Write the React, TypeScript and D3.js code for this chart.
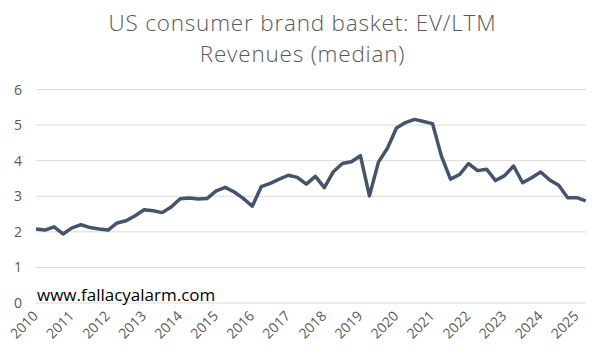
import React from "react";
import * as d3 from "d3";

const values: number[] = [
  2.08, 2.05, 2.14, 1.94, 2.11, 2.2, 2.12, 2.08, 2.05, 2.25, 2.31, 2.45, 2.62, 2.59, 2.54, 2.7,
  2.93, 2.95, 2.92, 2.94, 3.15, 3.25, 3.12, 2.94, 2.72, 3.27, 3.36, 3.48, 3.59, 3.53, 3.34, 3.56,
  3.24, 3.69, 3.92, 3.97, 4.14, 3.01, 3.96, 4.35, 4.92, 5.07, 5.16, 5.1, 5.04, 4.12, 3.48, 3.61,
  3.92, 3.72, 3.76, 3.44, 3.58, 3.85, 3.38, 3.52, 3.68, 3.46, 3.31, 2.96, 2.96, 2.87,
];
const years: string[] = [
  "2010", "2011", "2012", "2013", "2014", "2015", "2016", "2017",
  "2018", "2019", "2020", "2021", "2022", "2023", "2024", "2025",
];
const yTicks: number[] = [0, 1, 2, 3, 4, 5, 6];
const titleLines: string[] = ["US consumer brand basket: EV/LTM", "Revenues (median)"];
const watermark = "www.fallacyalarm.com";

const W = 611;
const H = 358;
const left = 36;
const right = 585.7;
const top = 89.5;
const bottom = 303;

export default function App() {
  const x = d3.scaleLinear().domain([0, values.length - 1]).range([left, right]);
  const y = d3.scaleLinear().domain([0, 6]).range([bottom, top]);
  const line = d3
    .line<number>()
    .x((_, i) => x(i))
    .y((d) => y(d));
  const gray = "#595959";
  return (
    <svg
      width={W}
      height={H}
      style={{ position: "absolute", left: 0, top: 0, background: "#fff" }}
    >
      <rect width={W} height={H} fill="#fff" />
      {titleLines.map((t, i) => (
        <text
          key={t}
          x={302.5}
          y={31 + i * 31}
          textAnchor="middle"
          fontFamily="'Open Sans', sans-serif"
          fontWeight={300}
          fontSize={22.5}
          letterSpacing={0.8}
          fill={gray}
        >
          {t}
        </text>
      ))}
      {yTicks.map((t) => (
        <g key={t}>
          <line x1={left} x2={right} y1={y(t)} y2={y(t)} stroke="#D9D9D9" strokeWidth={1} />
          <text
            x={22}
            y={y(t)}
            dy="0.36em"
            textAnchor="end"
            fontFamily="'Open Sans', sans-serif"
            fontSize={14}
            fill={gray}
          >
            {t}
          </text>
        </g>
      ))}
      {years.map((yr, i) => {
        const px = x(i * 4);
        return (
          <text
            key={yr}
            transform={`translate(${px - 4},${bottom + 7}) rotate(-45)`}
            textAnchor="end"
            dy="0.7em"
            fontFamily="'Open Sans', sans-serif"
            fontSize={14}
            fill={gray}
          >
            {yr}
          </text>
        );
      })}
      <path d={line(values) ?? ""} fill="none" stroke="#44546A" strokeWidth={3.5} strokeLinejoin="round" />
      <text
        x={37}
        y={300.5}
        fontFamily="'Open Sans', sans-serif"
        fontSize={17}
        fill="#000"
      >
        {watermark}
      </text>
    </svg>
  );
}
